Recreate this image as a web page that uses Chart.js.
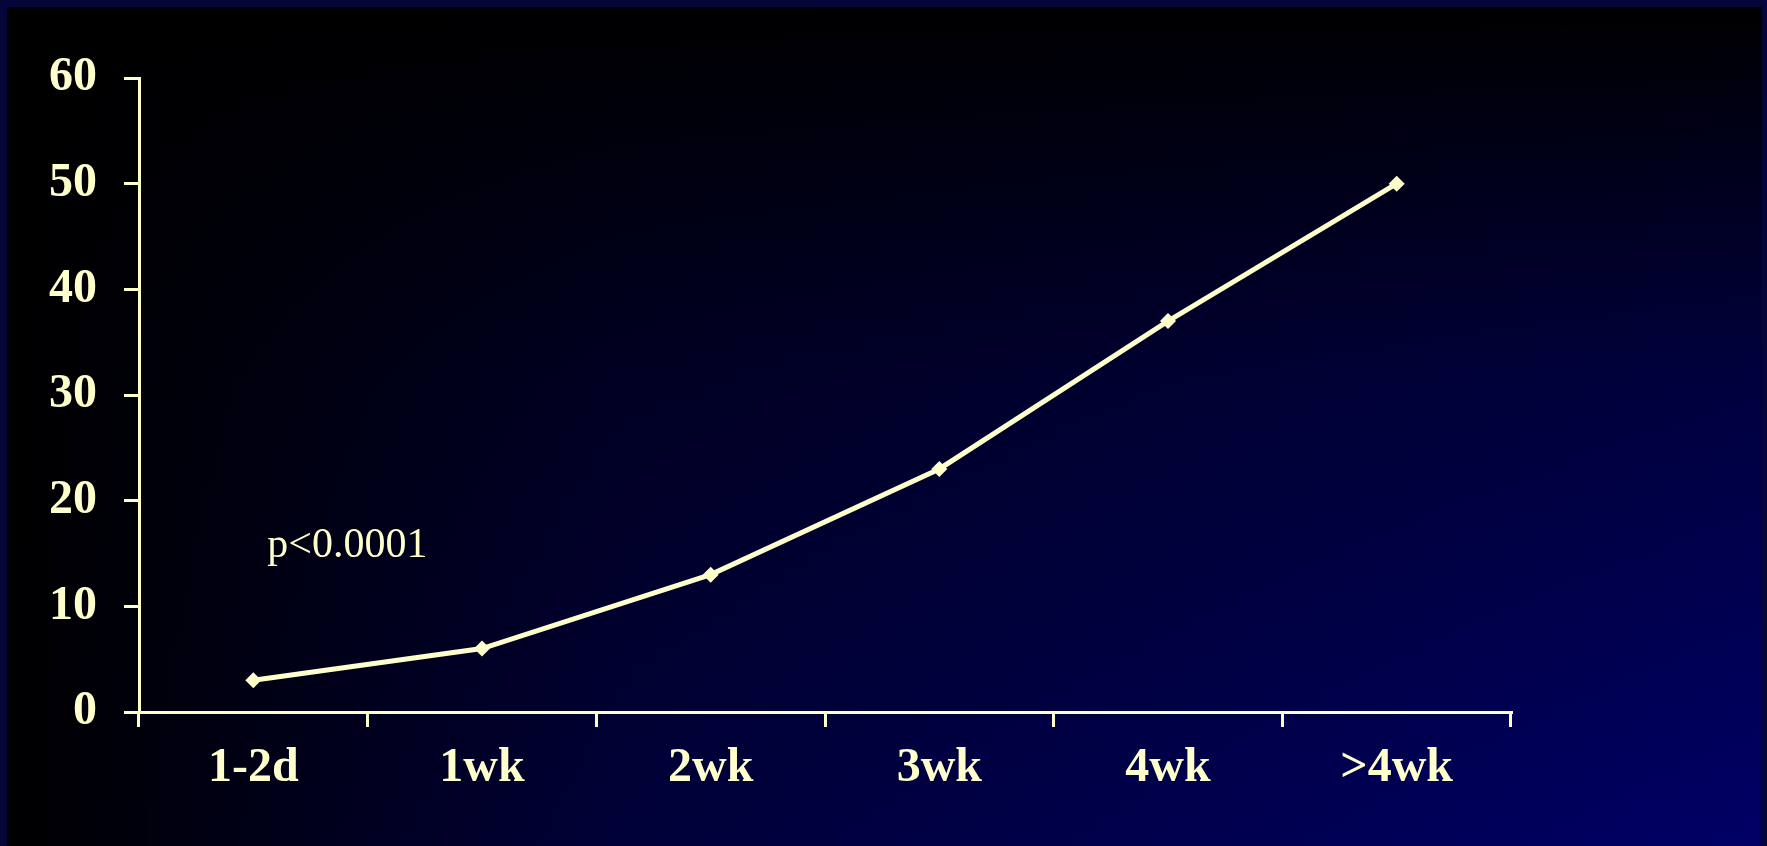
<!DOCTYPE html>
<html>
<head>
<meta charset="utf-8">
<script src="https://cdn.jsdelivr.net/npm/chart.js@4/dist/chart.umd.min.js"></script>
<style>
html,body{margin:0;padding:0;background:#000;}
#wrap{width:1767px;height:846px;position:relative;}
canvas{display:block;}
</style>
</head>
<body>
<div id="wrap"><canvas id="c" width="1767" height="846"></canvas></div>
<script>
const categories = ['1-2d', '1wk', '2wk', '3wk', '4wk', '>4wk'];
const values = [3, 6, 13, 23, 37, 50];
const yMin = 0;
const yMax = 60;
const yStep = 10;
const noteText = 'p<0.0001';

const INK = '#FFFFCC';
const LABEL_FONT = { family: '"Liberation Serif", "Times New Roman", serif', size: 48, weight: 'bold' };

const bgPlugin = {
  id: 'bg',
  beforeDraw(chart) {
    const ctx = chart.ctx;
    const W = chart.width, H = chart.height;
    ctx.save();
    ctx.fillStyle = '#000066';
    ctx.fillRect(0, 0, W, H);
    const gx = ctx.createLinearGradient(0, 0, W, 0);
    gx.addColorStop(0, 'rgba(0,0,0,1)');
    gx.addColorStop(0.35, 'rgba(0,0,0,0.45)');
    gx.addColorStop(1, 'rgba(0,0,0,0)');
    ctx.fillStyle = gx;
    ctx.fillRect(0, 0, W, H);
    const gy = ctx.createLinearGradient(0, 0, 0, H);
    gy.addColorStop(0, 'rgba(0,0,0,1)');
    gy.addColorStop(0.45, 'rgba(0,0,0,0.38)');
    gy.addColorStop(1, 'rgba(0,0,0,0)');
    ctx.fillStyle = gy;
    ctx.fillRect(0, 0, W, H);
    // slide frame
    ctx.fillStyle = '#05053a';
    ctx.fillRect(0, 0, W, 7);
    ctx.fillRect(0, 0, 7, H);
    ctx.fillRect(W - 5, 0, 5, H);
    ctx.restore();
  }
};

const notePlugin = {
  id: 'note',
  afterDatasetsDraw(chart) {
    const ctx = chart.ctx;
    const xs = chart.scales.x, ys = chart.scales.y;
    ctx.save();
    ctx.fillStyle = INK;
    ctx.font = '42px "Liberation Serif", "Times New Roman", serif';
    ctx.textAlign = 'left';
    ctx.textBaseline = 'alphabetic';
    ctx.fillText(noteText, xs.getPixelForValue(0) + 14, ys.getPixelForValue(14.7));
    ctx.restore();
  }
};

new Chart(document.getElementById('c'), {
  type: 'line',
  data: {
    labels: categories,
    datasets: [{
      data: values,
      borderColor: INK,
      backgroundColor: INK,
      borderWidth: 5,
      tension: 0,
      pointStyle: 'rectRot',
      pointRadius: 8,
      pointBorderWidth: 0,
      pointBackgroundColor: INK,
      fill: false
    }]
  },
  options: {
    responsive: false,
    animation: false,
    devicePixelRatio: 1,
    layout: { padding: { top: 78, right: 256, bottom: 0, left: 0 } },
    plugins: { legend: { display: false }, tooltip: { enabled: false } },
    scales: {
      x: {
        type: 'category',
        offset: true,
        grid: { offset: true, drawOnChartArea: false, drawTicks: true, tickLength: 15, color: INK, lineWidth: 3 },
        border: { display: true, color: INK, width: 3 },
        ticks: {
          color: INK,
          padding: 13,
          maxRotation: 0,
          font: LABEL_FONT
        },
        afterFit(s) { s.height = 134; }
      },
      y: {
        min: yMin,
        max: yMax,
        grid: { drawOnChartArea: false, drawTicks: true, tickLength: 15, color: INK, lineWidth: 3 },
        border: { display: true, color: INK, width: 3 },
        ticks: {
          stepSize: yStep,
          color: INK,
          padding: 27,
          font: LABEL_FONT
        },
        afterFit(s) { s.width = 139; }
      }
    }
  },
  plugins: [bgPlugin, notePlugin]
});
</script>
</body>
</html>
